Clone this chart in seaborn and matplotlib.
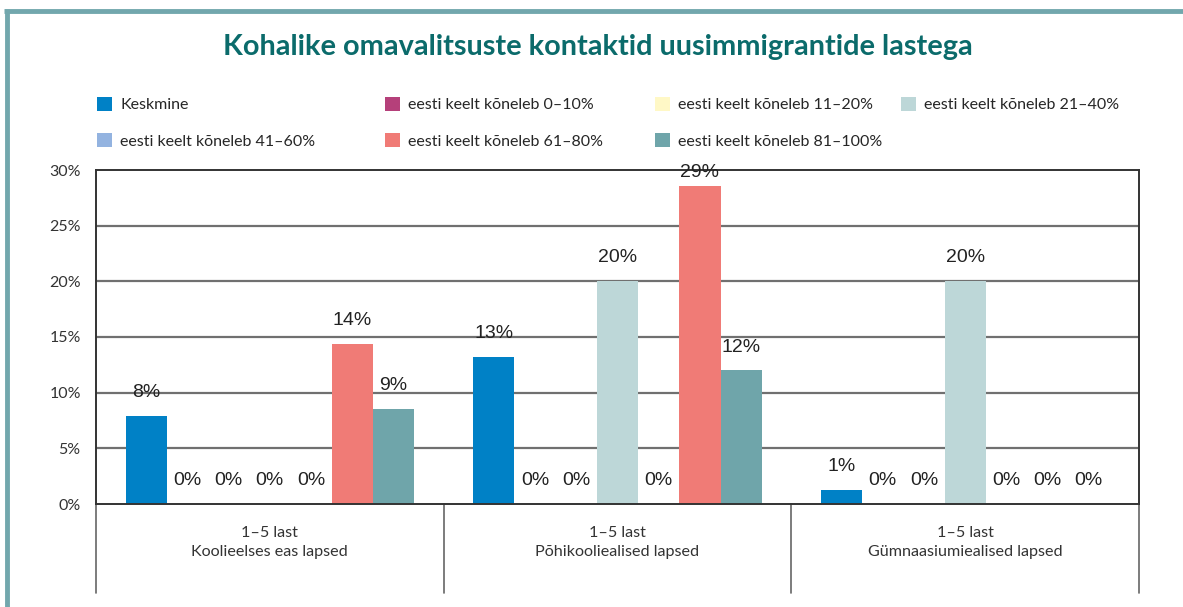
import matplotlib
matplotlib.use("Agg")
import matplotlib.pyplot as plt
from matplotlib.patches import Patch
from matplotlib.lines import Line2D
import seaborn as sns
import pandas as pd

categories = ["1–5 last\nKoolieelses eas lapsed",
              "1–5 last\nPõhikooliealised lapsed",
              "1–5 last\nGümnaasiumiealised lapsed"]
series = ["Keskmine",
          "eesti keelt kõneleb 0–10%",
          "eesti keelt kõneleb 11–20%",
          "eesti keelt kõneleb 21–40%",
          "eesti keelt kõneleb 41–60%",
          "eesti keelt kõneleb 61–80%",
          "eesti keelt kõneleb 81–100%"]
keskmine = [7.9, 13.2, 1.3]
s_0_10 = [0, 0, 0]
s_11_20 = [0, 0, 0]
s_21_40 = [0, 20.0, 20.0]
s_41_60 = [0, 0, 0]
s_61_80 = [14.4, 28.6, 0]
s_81_100 = [8.5, 12.0, 0]
labels_g1 = ["8%", "0%", "0%", "0%", "0%", "14%", "9%"]
labels_g2 = ["13%", "0%", "0%", "20%", "0%", "29%", "12%"]
labels_g3 = ["1%", "0%", "0%", "20%", "0%", "0%", "0%"]
yticks = [0, 5, 10, 15, 20, 25, 30]
colors = ["#0081c6", "#b5407a", "#fff8c6", "#bdd7d8", "#93b3e0", "#f07b76", "#6fa5aa"]
title = "Kohalike omavalitsuste kontaktid uusimmigrantide lastega"

all_vals = [keskmine, s_0_10, s_11_20, s_21_40, s_41_60, s_61_80, s_81_100]
rows = []
for s, vals in zip(series, all_vals):
    for c, v in zip(categories, vals):
        rows.append({"cat": c, "series": s, "value": v})
df = pd.DataFrame(rows)
lab_by_cat = [labels_g1, labels_g2, labels_g3]

sns.set_style("white")
W, H = 1183, 607
fig = plt.figure(figsize=(W / 100, H / 100), dpi=100)
ax = fig.add_axes([96 / W, 1 - 504 / H, (1139 - 96) / W, (504 - 170) / H])

sns.barplot(data=df, x="cat", y="value", hue="series", order=categories,
            hue_order=series, palette=colors, saturation=1, width=0.83,
            linewidth=0, ax=ax, legend=True, errorbar=None)
ax.get_legend().remove()

ax.set_xlim(-0.5, len(categories) - 0.5)
ax.set_ylim(0, 30)
ax.set_yticks(yticks)
ax.set_yticklabels([f"{t}%" for t in yticks], fontsize=11.5, family="Lato", color="#333333")
ax.set_xlabel("")
ax.set_ylabel("")
ax.tick_params(axis="x", length=0, pad=16, labelsize=11.6, labelcolor="#333333")
for t in ax.get_xticklabels():
    t.set_family("Lato")
    t.set_linespacing(1.45)
ax.tick_params(axis="y", length=5, width=1, color="#333333", pad=6)

for t in yticks[1:-1]:
    ax.axhline(t, color="#707070", lw=1.6, zorder=0.5)
for sp in ["top", "right", "left", "bottom"]:
    ax.spines[sp].set_visible(True)
    ax.spines[sp].set_color("#333333")
    ax.spines[sp].set_linewidth(1.4)

# separators below axis
depth = (593 - 504) / (504 - 170)
xt = ax.get_xaxis_transform()
for b in range(len(categories) + 1):
    ax.plot([b - 0.5, b - 0.5], [0, -depth], transform=xt, clip_on=False,
            color="#666666", lw=1.2)

# value labels
for si, cont in enumerate(ax.containers):
    for ci, bar in enumerate(cont):
        v = bar.get_height()
        y = min(v + 2.1, 29.8)
        ax.text(bar.get_x() + bar.get_width() / 2, y, lab_by_cat[ci][si],
                ha="center", va="center", fontsize=14, family="Liberation Sans",
                color="#222222")

# legend in 4 columns
cols = [[0, 4], [1, 5], [2, 6], [3]]
xs = [97, 385, 655, 901]
for col, x in zip(cols, xs):
    hs = [Patch(facecolor=colors[i], edgecolor="none") for i in col]
    fig.legend(hs, [series[i] for i in col], loc="upper left",
               bbox_to_anchor=(x / W, 1 - 97 / H), frameon=False,
               handlelength=0.95, handleheight=0.95, handletextpad=0.5,
               labelspacing=1.3, borderpad=0, borderaxespad=0,
               prop={"family": "Lato", "size": 11.5})

fig.text(598 / W, 1 - 47 / H, title, ha="center", va="center",
         fontsize=20.8, fontweight="bold", family="Lato", color="#0b6b6b")

# frame
fig.add_artist(Line2D([6.5 / W, 6.5 / W], [0, 1 - 9 / H], color="#72a7ad", lw=3.5,
                      solid_capstyle="butt"))
fig.add_artist(Line2D([4 / W, 1], [1 - 11 / H, 1 - 11 / H], color="#72a7ad", lw=3.5,
                      solid_capstyle="butt"))

fig.savefig("out.png", dpi=100)
